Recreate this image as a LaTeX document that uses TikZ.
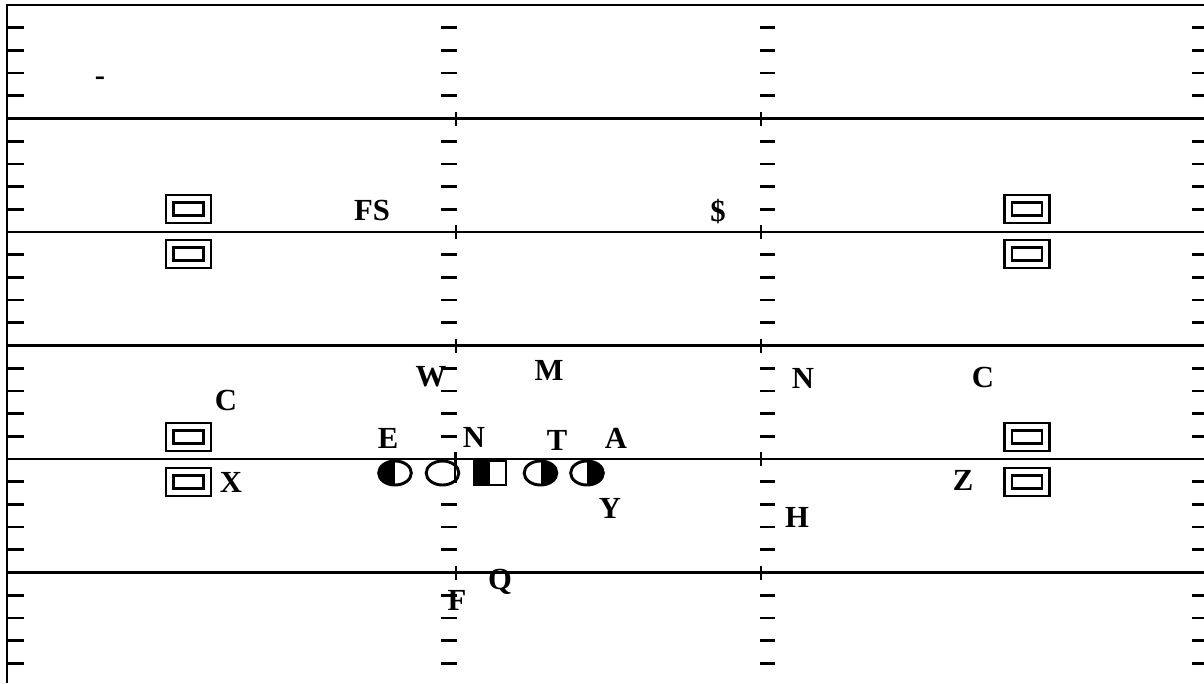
\documentclass[tikz,border=0pt]{standalone}
\usepackage{fontspec}
\setmainfont{Liberation Serif}
\usetikzlibrary{shapes.geometric}

\begin{document}
\begin{tikzpicture}[x=0.75pt,y=-0.75pt,
    lbl/.style={font=\fontsize{23}{27}\selectfont\bfseries, inner sep=0pt},
    player/.style={draw, fill=white, ellipse, line width=2.2pt, minimum width=24.5pt, minimum height=18pt, inner sep=0pt},
    center/.style={draw, fill=white, rectangle, line width=2.2pt, minimum width=24pt, minimum height=18pt, inner sep=0pt},
    lhalf/.style={path picture={\fill[black] (path picture bounding box.south west) rectangle (path picture bounding box.north);}},
    rhalf/.style={path picture={\fill[black] (path picture bounding box.south) rectangle (path picture bounding box.north east);}},
    rcvr/.style={draw, rectangle, double, line width=1.8pt, double distance=3.8pt, minimum width=28pt, minimum height=15.4pt, inner sep=0pt},
    hash/.style={line width=2pt},
    yard/.style={line width=1.8pt}]
    \useasboundingbox (0,0) rectangle (1204,683);

    % field
    \foreach \b in {0,5,...,25}{
        \foreach \k in {1,...,4}{
            \draw[hash] (8,{5+22.7*(\b+\k)}) -- (24,{5+22.7*(\b+\k)});
            \draw[hash] (441,{5+22.7*(\b+\k)}) -- (457,{5+22.7*(\b+\k)});
            \draw[hash] (760,{5+22.7*(\b+\k)}) -- (775,{5+22.7*(\b+\k)});
            \draw[hash] (1192,{5+22.7*(\b+\k)}) -- (1204,{5+22.7*(\b+\k)});
        }
    }
    \foreach \b in {5,10,...,25}{
        \draw[yard] (7,{5+22.7*\b}) -- (1204,{5+22.7*\b});
        \draw[yard] (456,{5+22.7*\b-7}) -- (456,{5+22.7*\b+7});
        \draw[yard] (761,{5+22.7*\b-7}) -- (761,{5+22.7*\b+7});
    }
    \draw[line width=2.2pt] (7,683) -- (7,5) -- (1204,5);

    % receivers
    \node[rcvr] (xl1) at (188.5,209) {};
    \node[rcvr] (xl2) at (188.5,254) {};
    \node[rcvr] (xl3) at (188.5,437) {};
    \node[rcvr] (xl4) at (188.5,482) {};
    \node[rcvr] (xr1) at (1027,209) {};
    \node[rcvr] (xr2) at (1027,254) {};
    \node[rcvr] (xr3) at (1027,437) {};
    \node[rcvr] (xr4) at (1027,482) {};

    % line
    \node[player, lhalf] (lt) at (395,473) {};
    \node[player] (lg) at (442.5,473) {};
    \draw[line width=1.6pt] (455,452) -- (455,481);
    \node[center, lhalf] (c) at (490,473) {};
    \node[player, rhalf] (rg) at (540.5,473) {};
    \node[player, rhalf] (rt) at (587,473) {};

    % labels
    \node[lbl] (dash) at (100,81) {-};
    \node[lbl] (fs) at (372,210) {FS};
    \node[lbl] (ss) at (718,212) {\$};
    \node[lbl] (w) at (431,377) {W};
    \node[lbl] (m) at (549,370) {M};
    \node[lbl] (n) at (803,378) {N};
    \node[lbl] (cr) at (983,377) {C};
    \node[lbl] (cl) at (226,400) {C};
    \node[lbl] (e) at (388,438) {E};
    \node[lbl] (nt) at (474,437) {N};
    \node[lbl] (t) at (557,440) {T};
    \node[lbl] (a) at (616,438) {A};
    \node[lbl] (x) at (231,482) {X};
    \node[lbl] (z) at (963,480) {Z};
    \node[lbl] (y) at (610,508) {Y};
    \node[lbl] (h) at (797,517) {H};
    \node[lbl] (q) at (500,582) {Q};
    \node[lbl] (f) at (457,600) {F};
\end{tikzpicture}
\end{document}
